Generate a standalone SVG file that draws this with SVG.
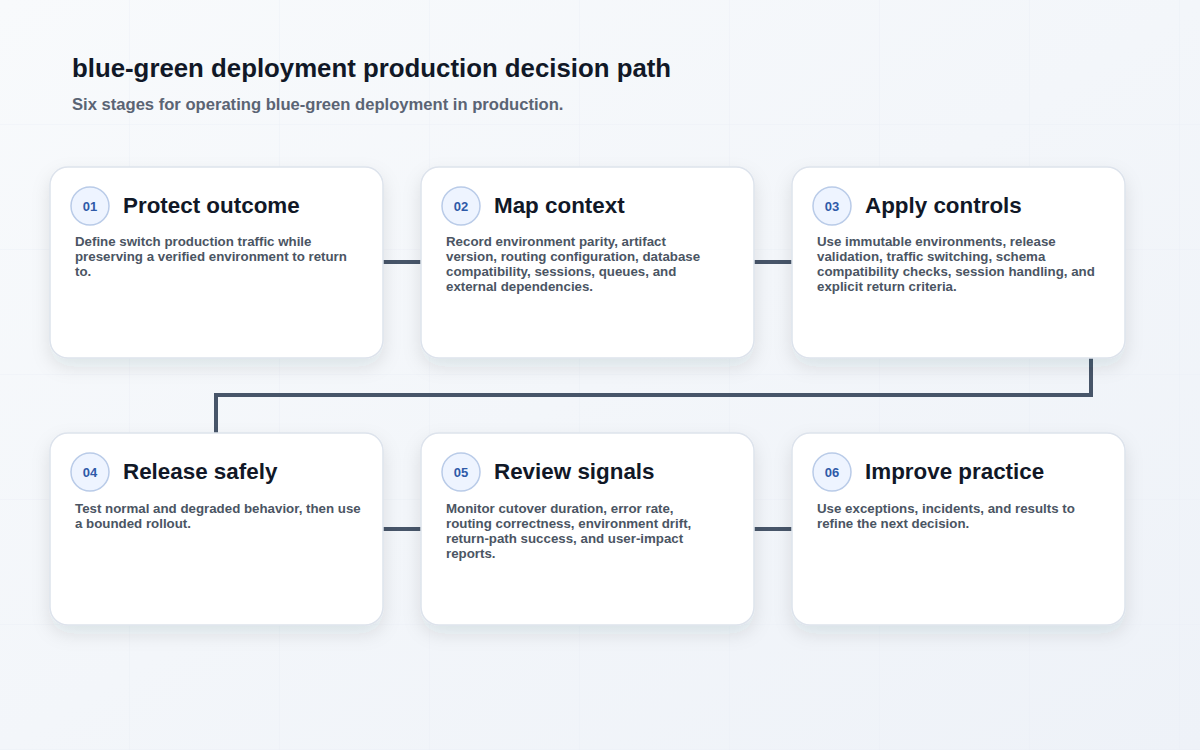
<svg xmlns="http://www.w3.org/2000/svg" width="1200" height="750" viewBox="0 0 1200 750">
<defs>
<linearGradient id="bg" x1="0" y1="0" x2="1" y2="1"><stop offset="0" stop-color="#f8fafc"/><stop offset="1" stop-color="#eef2f8"/></linearGradient>
<filter id="sh" x="-20%" y="-20%" width="140%" height="150%"><feDropShadow dx="0" dy="8" stdDeviation="9" flood-color="#1e293b" flood-opacity="0.10"/></filter>
<pattern id="grid" width="150" height="125" patternUnits="userSpaceOnUse" x="-20" y="0"><path d="M150 0V125M0 125H150" fill="none" stroke="#e8edf4" stroke-width="1"/></pattern>
</defs>
<style>
.card{fill:#fff;stroke:#dde3ec;stroke-width:1.5;filter:url(#sh)}
.num{fill:#eef4ff;stroke:#b9cbe8;stroke-width:1.5}
.nt{font:700 13px "Liberation Sans",Arial,sans-serif;fill:#2f5aa8;text-anchor:middle}
.tt{font:700 22.4px "Liberation Sans",Arial,sans-serif;fill:#111827}
.bd{font:700 13.3px "Liberation Sans",Arial,sans-serif;fill:#4b5563}
.cn{fill:none;stroke:#475569;stroke-width:4}
</style>
<rect width="1200" height="750" fill="url(#bg)"/>
<rect width="1200" height="750" fill="url(#grid)" opacity="0.7"/>
<text x="72" y="77" style="font:700 25.8px 'Liberation Sans',Arial,sans-serif;fill:#111827">blue-green deployment production decision path</text>
<text x="72" y="110" style="font:700 16.6px 'Liberation Sans',Arial,sans-serif;fill:#5b6474">Six stages for operating blue-green deployment in production.</text>
<g id="connectors">
<path class="cn" d="M383 262H421"/>
<path class="cn" d="M754 262H792"/>
<path class="cn" d="M1091 358V395H216V433"/>
<path class="cn" d="M383 529H421"/>
<path class="cn" d="M754 529H792"/>
</g>
<g id="n1"><rect class="card" x="50" y="167" width="333" height="191" rx="18"/><circle class="num" cx="90" cy="206" r="19"/><text class="nt" x="90" y="211">01</text><text class="tt" x="123" y="213">Protect outcome</text>
<text class="bd"><tspan x="75" y="246">Define switch production traffic while</tspan><tspan x="75" y="261">preserving a verified environment to return</tspan><tspan x="75" y="276">to.</tspan></text></g>
<g id="n2"><rect class="card" x="421" y="167" width="333" height="191" rx="18"/><circle class="num" cx="461" cy="206" r="19"/><text class="nt" x="461" y="211">02</text><text class="tt" x="494" y="213">Map context</text>
<text class="bd"><tspan x="446" y="246">Record environment parity, artifact</tspan><tspan x="446" y="261">version, routing configuration, database</tspan><tspan x="446" y="276">compatibility, sessions, queues, and</tspan><tspan x="446" y="291">external dependencies.</tspan></text></g>
<g id="n3"><rect class="card" x="792" y="167" width="333" height="191" rx="18"/><circle class="num" cx="832" cy="206" r="19"/><text class="nt" x="832" y="211">03</text><text class="tt" x="865" y="213">Apply controls</text>
<text class="bd"><tspan x="817" y="246">Use immutable environments, release</tspan><tspan x="817" y="261">validation, traffic switching, schema</tspan><tspan x="817" y="276">compatibility checks, session handling, and</tspan><tspan x="817" y="291">explicit return criteria.</tspan></text></g>
<g id="n4"><rect class="card" x="50" y="433" width="333" height="192" rx="18"/><circle class="num" cx="90" cy="472" r="19"/><text class="nt" x="90" y="477">04</text><text class="tt" x="123" y="479">Release safely</text>
<text class="bd"><tspan x="75" y="513">Test normal and degraded behavior, then use</tspan><tspan x="75" y="528">a bounded rollout.</tspan></text></g>
<g id="n5"><rect class="card" x="421" y="433" width="333" height="192" rx="18"/><circle class="num" cx="461" cy="472" r="19"/><text class="nt" x="461" y="477">05</text><text class="tt" x="494" y="479">Review signals</text>
<text class="bd"><tspan x="446" y="513">Monitor cutover duration, error rate,</tspan><tspan x="446" y="528">routing correctness, environment drift,</tspan><tspan x="446" y="543">return-path success, and user-impact</tspan><tspan x="446" y="558">reports.</tspan></text></g>
<g id="n6"><rect class="card" x="792" y="433" width="333" height="192" rx="18"/><circle class="num" cx="832" cy="472" r="19"/><text class="nt" x="832" y="477">06</text><text class="tt" x="865" y="479">Improve practice</text>
<text class="bd"><tspan x="817" y="513">Use exceptions, incidents, and results to</tspan><tspan x="817" y="528">refine the next decision.</tspan></text></g>
</svg>
